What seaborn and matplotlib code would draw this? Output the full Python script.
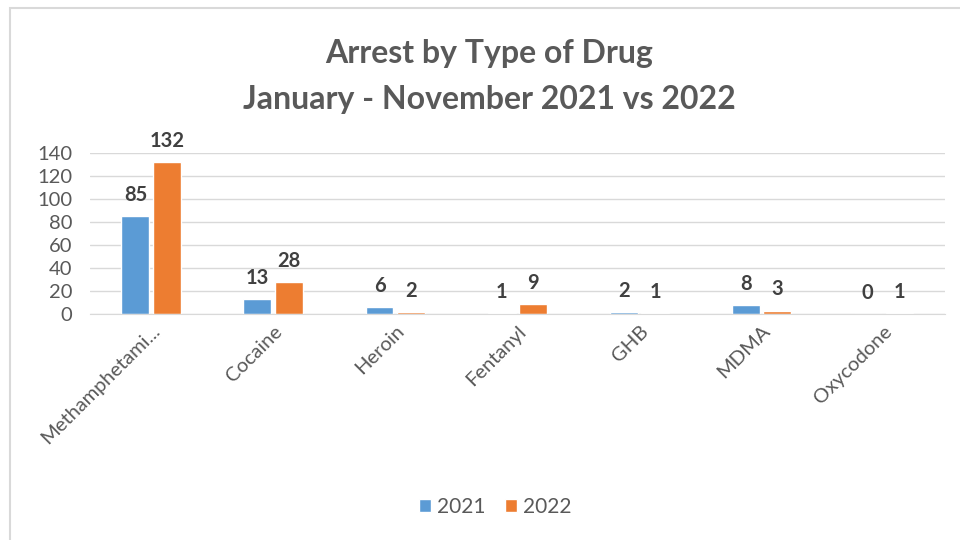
import pandas as pd
import seaborn as sns
import matplotlib.pyplot as plt
from matplotlib.patches import Rectangle

drugs = ["Methamphetami...", "Cocaine", "Heroin", "Fentanyl", "GHB", "MDMA", "Oxycodone"]
arrests_2021 = [85, 13, 6, 1, 2, 8, 0]
arrests_2022 = [132, 28, 2, 9, 1, 3, 1]
years = ["2021", "2022"]

df = pd.DataFrame({
    "drug": drugs * 2,
    "year": [years[0]] * len(drugs) + [years[1]] * len(drugs),
    "arrests": arrests_2021 + arrests_2022,
})

sns.set_style("white")
plt.rcParams["font.family"] = ["Lato", "DejaVu Sans"]

fig = plt.figure(figsize=(9.6, 5.4), dpi=100)
ax = fig.add_axes([0.094, 0.4185, 0.89, 0.2982])

sns.barplot(data=df, x="drug", y="arrests", hue="year", order=drugs,
            palette=["#5B9BD5", "#ED7D31"], saturation=1, width=0.52, gap=0.12,
            ax=ax, legend=True)

for c in ax.containers:
    ax.bar_label(c, padding=8, fontsize=14.5, fontweight="bold", color="#404040")

ax.set_ylim(0, 140)
ax.set_xlim(-0.5, 6.5)
ax.set_yticks(range(0, 141, 20))
ax.yaxis.grid(True, color="#D9D9D9", linewidth=1)
ax.set_axisbelow(True)
for s in ["top", "right", "left"]:
    ax.spines[s].set_visible(False)
ax.spines["bottom"].set_color("#D9D9D9")
ax.set_xlabel("")
ax.set_ylabel("")
ax.tick_params(axis="y", labelsize=14.5, labelcolor="#595959", length=0, pad=13)
ax.tick_params(axis="x", labelsize=14.5, labelcolor="#595959", length=0, pad=6)
plt.setp(ax.get_xticklabels(), rotation=45, ha="right", rotation_mode="anchor")

h, l = ax.get_legend_handles_labels()
ax.legend_.remove()
fig.legend(h, l, loc="center", bbox_to_anchor=(0.516, 0.062), ncol=2, frameon=False,
           fontsize=15, labelcolor="#595959", handlelength=0.6, handleheight=0.6,
           handletextpad=0.3, columnspacing=0.9)

fig.text(0.51, 0.9, "Arrest by Type of Drug", ha="center", va="center",
         fontsize=23, fontweight="bold", color="#595959")
fig.text(0.51, 0.815, "January - November 2021 vs 2022", ha="center", va="center",
         fontsize=23, fontweight="bold", color="#595959")

fig.patches.append(Rectangle((0.01, -0.01), 1.0, 0.995, transform=fig.transFigure,
                             fill=False, edgecolor="#D9D9D9", linewidth=1.5))

fig.savefig("out.png", dpi=100)
